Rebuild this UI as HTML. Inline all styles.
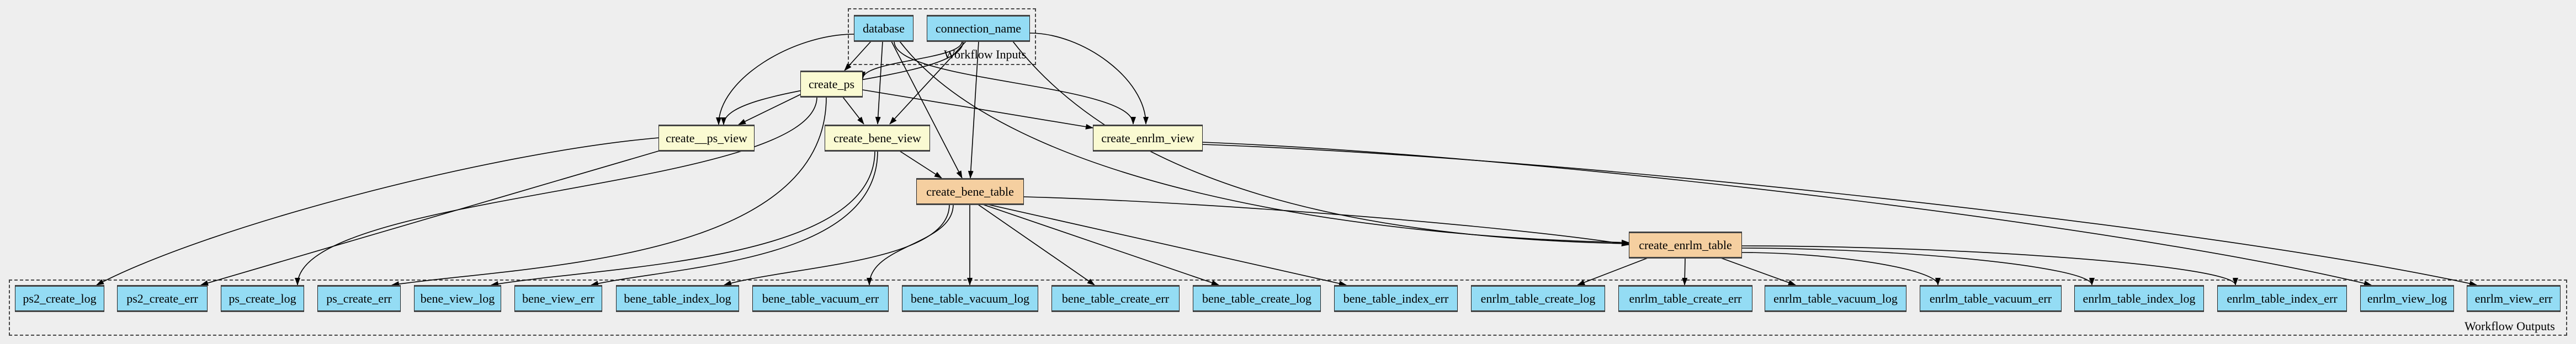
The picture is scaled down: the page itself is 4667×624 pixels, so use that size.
<!DOCTYPE html>
<html><head><meta charset="utf-8">
<style>
html,body{margin:0;padding:0;background:#eeeeee;}
#c{position:relative;width:4667px;height:624px;overflow:hidden;background:#eeeeee;font-family:"Liberation Serif",serif;}
.n{position:absolute;box-sizing:border-box;border:1.5px solid #222;border-top:3px solid #444;border-bottom:3px solid #444;display:flex;align-items:center;justify-content:center;font-size:22px;color:#000;white-space:nowrap;height:49px;}
.b{background:#94dcf4;}
.y{background:#fafad2;}
.o{background:#f5cfa0;}
.cl{position:absolute;border:2px dashed #444;box-sizing:border-box;}
.lab{position:absolute;font-size:22px;white-space:nowrap;}
svg{position:absolute;left:0;top:0;}
</style></head><body><div id="c">
<div class="cl" style="left:1536px;top:15px;width:341px;height:103px"></div>
<div class="cl" style="left:16px;top:507px;width:4635px;height:102px"></div>
<div class="lab" style="left:1710px;top:86px">Workflow Inputs</div>
<div class="lab" style="left:4465px;top:579px">Workflow Outputs</div>

<svg id="s" width="4667" height="624" viewBox="0 0 4667 624">
<defs><marker id="a" markerWidth="14" markerHeight="10" refX="13" refY="5" orient="auto" markerUnits="userSpaceOnUse"><path d="M0,0 L14,5 L0,10 z" fill="#000"/></marker></defs>
<g id="e" fill="none" stroke="#000" stroke-width="1.6" marker-end="url(#a)"></g>
</svg>

<div class="n b" style="left:1547px;top:27px;width:108px">database</div>
<div class="n b" style="left:1679px;top:27px;width:187px">connection_name</div>
<div class="n y" style="left:1450px;top:128px;width:113px">create_ps</div>
<div class="n y" style="left:1193px;top:226px;width:174px">create__ps_view</div>
<div class="n y" style="left:1494px;top:226px;width:191px">create_bene_view</div>
<div class="n y" style="left:1980px;top:226px;width:199px">create_enrlm_view</div>
<div class="n o" style="left:1660px;top:323px;width:195px">create_bene_table</div>
<div class="n o" style="left:2951px;top:420px;width:205px">create_enrlm_table</div>

<div class="n b" style="left:27px;top:517px;width:162px">ps2_create_log</div>
<div class="n b" style="left:212px;top:517px;width:164px">ps2_create_err</div>
<div class="n b" style="left:400px;top:517px;width:151px">ps_create_log</div>
<div class="n b" style="left:575px;top:517px;width:151px">ps_create_err</div>
<div class="n b" style="left:750px;top:517px;width:158px">bene_view_log</div>
<div class="n b" style="left:932px;top:517px;width:159px">bene_view_err</div>
<div class="n b" style="left:1116px;top:517px;width:223px">bene_table_index_log</div>
<div class="n b" style="left:1363px;top:517px;width:247px">bene_table_vacuum_err</div>
<div class="n b" style="left:1634px;top:517px;width:247px">bene_table_vacuum_log</div>
<div class="n b" style="left:1905px;top:517px;width:232px">bene_table_create_err</div>
<div class="n b" style="left:2161px;top:517px;width:232px">bene_table_create_log</div>
<div class="n b" style="left:2417px;top:517px;width:224px">bene_table_index_err</div>
<div class="n b" style="left:2665px;top:517px;width:243px">enrlm_table_create_log</div>
<div class="n b" style="left:2932px;top:517px;width:243px">enrlm_table_create_err</div>
<div class="n b" style="left:3197px;top:517px;width:257px">enrlm_table_vacuum_log</div>
<div class="n b" style="left:3478px;top:517px;width:257px">enrlm_table_vacuum_err</div>
<div class="n b" style="left:3758px;top:517px;width:235px">enrlm_table_index_log</div>
<div class="n b" style="left:4017px;top:517px;width:235px">enrlm_table_index_err</div>
<div class="n b" style="left:4276px;top:517px;width:170px">enrlm_view_log</div>
<div class="n b" style="left:4469px;top:517px;width:170px">enrlm_view_err</div>
</div>
<script>
var E=[
[1578,75,1530,128,'l'],
[1547,62,1302,226,'h'],
[1745,75,1311,226,'v'],
[1453,170,1338,226,'l'],
[1599,75,1590,225,'l'],
[1750,75,1612,225,'l'],
[1527,176,1565,225,'l'],
[1615,75,1743,323,'l'],
[1773,75,1758,323,'l'],
[1630,274,1706,323,'l'],
[1620,75,2053,225,'v'],
[1866,60,2076,225,'h'],
[1630,75,2951,440,'s'],
[1835,75,2951,442,'s'],
[1743,75,1563,143,'v'],
[1563,163,1980,232,'l'],
[1193,250,175,517,'c'],
[1193,274,364,517,'l'],
[1480,176,539,517,'v'],
[1497,176,710,517,'d'],
[1585,274,890,517,'d'],
[1590,274,1071,517,'d'],
[1720,371,1312,517,'d'],
[1727,371,1575,517,'v'],
[1757,371,1757,517,'l'],
[1772,371,1983,517,'l'],
[1781,371,2208,517,'l'],
[1790,371,2439,517,'l'],
[1855,357,2951,444,'c'],
[2179,258,4296,517,'c'],
[2179,262,4487,517,'c'],
[2985,468,2858,517,'l'],
[3053,468,3052,517,'l'],
[3118,468,3253,517,'l'],
[3156,458,3511,517,'h'],
[3156,450,3790,517,'h'],
[3156,446,4050,517,'h']
];
var g=document.getElementById('e'),h='';
E.forEach(function(e){var x1=e[0],y1=e[1],x2=e[2],y2=e[3],m=e[4],d;
if(m==='l'){d='M'+x1+','+y1+' L'+x2+','+y2;}
else if(m==='c'){d='M'+x1+','+y1+' C'+(x1+(x2-x1)*0.3)+','+(y1+(y2-y1)*0.1)+' '+(x1+(x2-x1)*0.8)+','+(y1+(y2-y1)*0.6)+' '+x2+','+y2;}
else if(m==='h'){var dx=(x2-x1)*0.45;d='M'+x1+','+y1+' C'+(x1+dx)+','+y1+' '+x2+','+(y2-(y2-y1)*0.5)+' '+x2+','+y2;}
else if(m==='d'){d='M'+x1+','+y1+' C'+x1+','+(y2-40)+' '+(x2+(x1-x2)*0.3)+','+(y2-35)+' '+x2+','+y2;}
else if(m==='s'){d='M'+x1+','+y1+' C'+(x1+200)+','+(y1+260)+' '+(x2-500)+','+(y2-10)+' '+x2+','+y2;}
else{var dy=(y2-y1)*0.5;d='M'+x1+','+y1+' C'+x1+','+(y1+dy)+' '+x2+','+(y2-dy)+' '+x2+','+y2;}
h+='<path d="'+d+'"/>';});
g.innerHTML=h;
</script>
</body></html>
